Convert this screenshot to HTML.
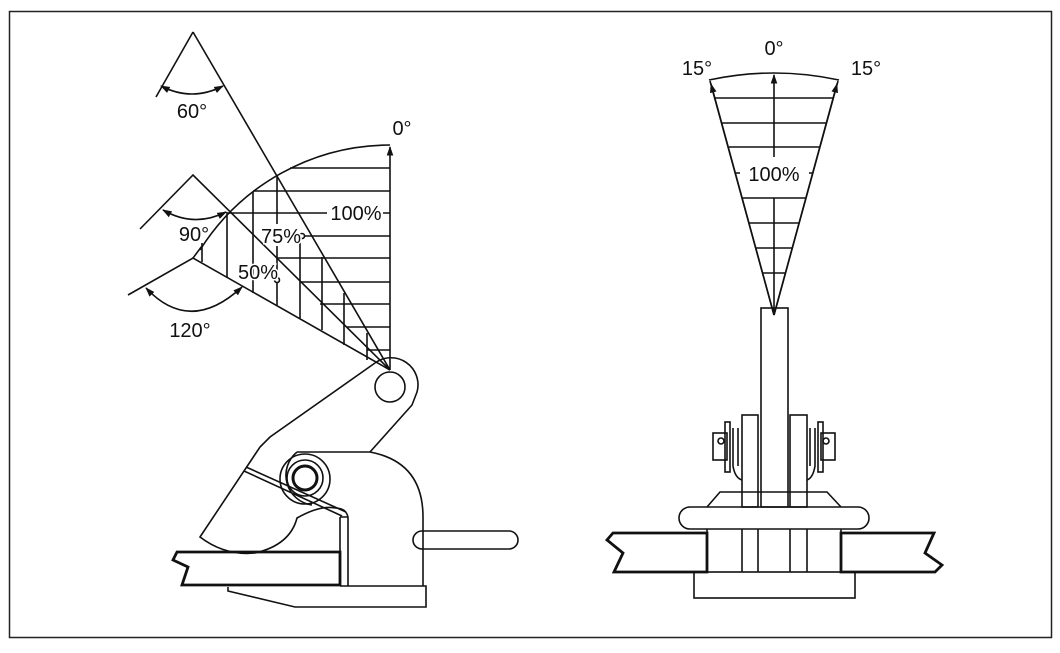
<!DOCTYPE html>
<html><head><meta charset="utf-8"><style>
html,body{margin:0;padding:0;background:#fff;}
svg{display:block;}
text{font-family:"Liberation Sans",Arial,sans-serif;font-size:20px;fill:#111;}
</style></head><body>
<svg width="1060" height="653" viewBox="0 0 1060 653" xmlns="http://www.w3.org/2000/svg">
<defs>
<marker id="ar" viewBox="0 0 10 10" refX="9" refY="5" markerWidth="6" markerHeight="6" orient="auto-start-reverse"><path d="M0,1.5 L10,5 L0,8.5 z" fill="#111"/></marker>
</defs>
<rect x="9.5" y="11.5" width="1042" height="626" fill="none" stroke="#222" stroke-width="1.5"/>
<g stroke="#111" stroke-width="1.6" fill="none">
<!-- left fan -->
<path d="M390,370 L390,147" marker-end="url(#ar)"/>
<path d="M390,145 A225,225 0 0 0 200,250"/>
<path d="M193,32 L390,370"/>
<path d="M156,97 L193,32"/>
<path d="M140,229 L193,175 L390,370"/>
<path d="M128,295 L193,258 L390,370"/>
<path d="M202,246 L193,258"/>
<path d="M161,86 Q192,102 223,86" marker-start="url(#ar)" marker-end="url(#ar)"/>
<path d="M163,210 Q194,228 226,212" marker-start="url(#ar)" marker-end="url(#ar)"/>
<path d="M146,288 Q190,335 242,287" marker-start="url(#ar)" marker-end="url(#ar)"/>
<path d="M290,168H390 M253,191H390 M228,213H327 M383,213H390 M303,236H390 M277,258H390 M300,282H390 M320,304H390 M347,327H390 M367,350H390"/>
<path d="M202,243V262 M227,212V277 M253,192V293 M277,177V224 M277,246V305 M300,238V318 M322,257V330 M344,293V345 M367,333V360"/>
<circle cx="302" cy="236" r="2.5" fill="#fff"/>
<circle cx="277" cy="280" r="2.5" fill="#fff"/>
<!-- clamp body -->
<circle cx="390" cy="387" r="15"/>
<path d="M375,363 A27,27 0 0 1 417,392 L412,405 L370,452"/>
<path d="M375,363 L270,437 L260,447 L200,537 Q225,556 255,553 Q290,545 297,518 Q320,505 335,508"/>
<path d="M297,452 L370,452 Q423,462 423,517 L423,586"/>
<path d="M297,452 A30,30 0 0 0 312,505"/>
<circle cx="305" cy="479" r="25"/>
<circle cx="305" cy="478" r="18"/>
<circle cx="305" cy="478" r="12" stroke-width="3"/>
<path d="M246,467 L346,512 M244,471 L342,516"/>
<path d="M335,508 Q346,508 348,517 L348,586 M340,517 L348,517 M340,517 V586"/>
<path d="M177,552 L340,552 L340,585 L182,585 L188,567 L173,560 Z" stroke-width="2.8"/>
<path d="M228,587 L228,591 L295,607 L426,607 L426,586 L340,586"/>
<path d="M422,531 L509,531 A9,9 0 0 1 509,549 L422,549 A9,9 0 0 1 422,531"/>
<!-- right fan -->
<path d="M774,315 L710,81 M774,315 L838,81"/>
<path d="M774,315 L711,84" marker-end="url(#ar)"/>
<path d="M774,315 L837,84" marker-end="url(#ar)"/>
<path d="M709,80 Q774,66 839,80"/>
<path d="M774,157 L774,75" marker-end="url(#ar)"/>
<path d="M774,198 L774,315"/>
<path d="M715,98H833 M722,123H826 M729,147H819 M735,173H740 M809,173H813 M742,198H806 M749,223H799 M756,248H792 M763,273H785"/>
<!-- right clamp -->
<rect x="761" y="308" width="27" height="199"/>
<rect x="742" y="415" width="16" height="92"/>
<rect x="790" y="415" width="17" height="92"/>
<path d="M707,507 L720,492 L827,492 L841,507"/>
<rect x="679" y="507" width="190" height="22" rx="11"/>
<rect x="713" y="433" width="14" height="27"/><circle cx="721" cy="441" r="3"/>
<rect x="725" y="422" width="5" height="50"/>
<path d="M733,428 V466 Q735,478 742,480 M738,428 V466"/>
<rect x="821" y="433" width="14" height="27"/><circle cx="826" cy="441" r="3"/>
<rect x="818" y="422" width="5" height="50"/>
<path d="M815,428 V466 Q813,478 807,480 M810,428 V466"/>
<path d="M707,529V572 M742,529V572 M758,529V572 M790,529V572 M807,529V572 M841,529V572"/>
<rect x="694" y="572" width="161" height="26"/>
<path d="M613,533 L707,533 L707,572 L614,572 L623,553 L607,540 Z" stroke-width="2.8"/>
<path d="M841,533 L934,533 L925,553 L942,565 L935,572 L841,572 Z" stroke-width="2.8"/>
</g>
<g>
<text x="402" y="135" text-anchor="middle">0°</text>
<text x="192" y="118" text-anchor="middle">60°</text>
<text x="194" y="241" text-anchor="middle">90°</text>
<text x="190" y="337" text-anchor="middle">120°</text>
<text x="356" y="220" text-anchor="middle">100%</text>
<text x="281" y="243" text-anchor="middle" style="paint-order:stroke" stroke="#fff" stroke-width="3">75%</text>
<text x="258" y="279" text-anchor="middle" style="paint-order:stroke" stroke="#fff" stroke-width="3">50%</text>
<text x="774" y="55" text-anchor="middle">0°</text>
<text x="697" y="75" text-anchor="middle">15°</text>
<text x="866" y="75" text-anchor="middle">15°</text>
<text x="774" y="181" text-anchor="middle">100%</text>
</g>
</svg>
</body></html>
